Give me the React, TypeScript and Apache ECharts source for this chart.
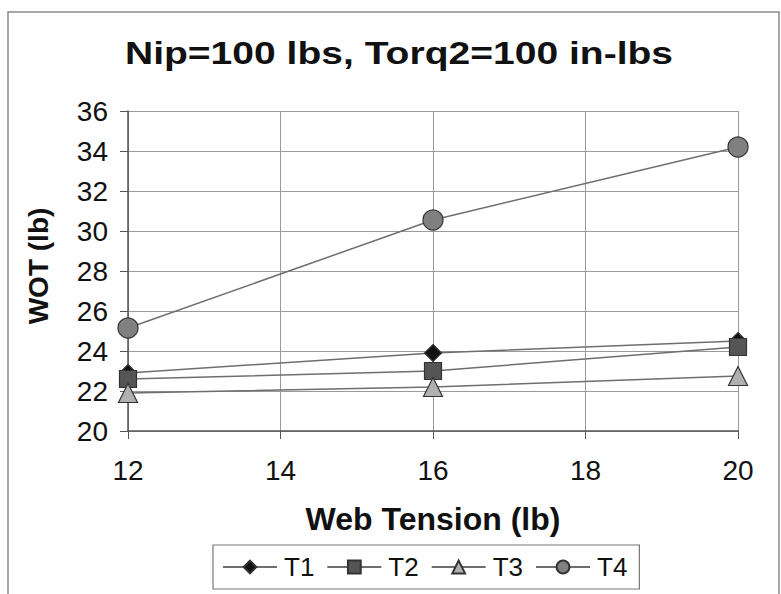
import React, { useEffect, useRef } from "react";
import * as echarts from "echarts";

const webTension = [12, 16, 20];
const t1 = [22.9, 23.9, 24.5];
const t2 = [22.6, 23.0, 24.2];
const t3 = [21.9, 22.2, 22.75];
const t4 = [25.15, 30.55, 34.2];
const seriesNames = ["T1", "T2", "T3", "T4"];
const titleText = "Nip=100 lbs, Torq2=100 in-lbs";
const xName = "Web Tension (lb)";
const yName = "WOT (lb)";

const FONT = "'Liberation Sans', Arial, Helvetica, sans-serif";

export default function App() {
  const ref = useRef<HTMLDivElement>(null);
  useEffect(() => {
    if (!ref.current) return;
    const chart = echarts.init(ref.current, null, { renderer: "svg" });
    const pts = (vals: number[]) => webTension.map((x, i) => [x, vals[i]]);
    const lineStyle = { color: "#6e6e6e", width: 1.5 };
    const mk = (name: string, vals: number[], symbol: string, size: number, fill: string) => ({
      name,
      type: "line",
      data: pts(vals),
      symbol,
      symbolSize: size,
      showSymbol: true,
      lineStyle,
      itemStyle: { color: fill, borderColor: "#333", borderWidth: 1.2 },
      emphasis: { disabled: true },
      z: 3,
    });
    chart.setOption({
      animation: false,
      backgroundColor: "#ffffff",
      textStyle: { fontFamily: FONT },
      graphic: [
        {
          type: "rect",
          shape: { x: 8, y: 12, width: 771, height: 600 },
          style: { fill: "none", stroke: "#8a8a8a", lineWidth: 1.5 },
          silent: true,
          z: -10,
        },
        {
          type: "text",
          x: 399,
          y: 53,
          scaleX: 1.22,
          style: {
            text: titleText,
            fontSize: 32,
            fontWeight: "bold",
            fontFamily: FONT,
            fill: "#111",
            textAlign: "center",
            textVerticalAlign: "middle",
          },
        },
        {
          type: "text",
          x: 38,
          y: 266,
          rotation: Math.PI / 2,
          style: {
            text: yName,
            fontSize: 28,
            fontWeight: "bold",
            fontFamily: FONT,
            fill: "#111",
            textAlign: "center",
            textVerticalAlign: "middle",
          },
        },
        {
          type: "text",
          x: 433,
          y: 519,
          style: {
            text: xName,
            fontSize: 32,
            fontWeight: "bold",
            fontFamily: FONT,
            fill: "#111",
            textAlign: "center",
            textVerticalAlign: "middle",
          },
        },
      ],
      grid: { left: 128, right: 43, top: 111, bottom: 163, containLabel: false },
      xAxis: {
        type: "value",
        min: 12,
        max: 20,
        interval: 2,
        axisLine: { show: true, onZero: false, lineStyle: { color: "#555", width: 1.5 } },
        axisTick: { show: true, length: 8, inside: false, lineStyle: { color: "#555" } },
        axisLabel: { fontSize: 28, color: "#111", margin: 25, fontFamily: FONT },
        splitLine: { show: true, lineStyle: { color: "#9a9a9a", width: 1 } },
      },
      yAxis: {
        type: "value",
        min: 20,
        max: 36,
        interval: 2,
        axisLine: { show: true, onZero: false, lineStyle: { color: "#555", width: 1.5 } },
        axisTick: { show: true, length: 8, inside: false, lineStyle: { color: "#555" } },
        axisLabel: { fontSize: 28, color: "#111", margin: 20, fontFamily: FONT },
        splitLine: { show: true, lineStyle: { color: "#9a9a9a", width: 1 } },
      },
      legend: {
        data: seriesNames,
        left: 213,
        top: 545,
        orient: "horizontal",
        itemWidth: 54,
        itemHeight: 16,
        itemGap: 12,
        padding: [9, 12, 9, 9],
        borderColor: "#777",
        borderWidth: 1.2,
        textStyle: { fontSize: 26, color: "#111", fontFamily: FONT, padding: [0, 0, 0, 2] },
        selectedMode: false,
      },
      series: [
        mk(seriesNames[0], t1, "diamond", 17, "#111111"),
        mk(seriesNames[1], t2, "rect", 17, "#555555"),
        mk(seriesNames[2], t3, "triangle", 19, "#b0b0b0"),
        mk(seriesNames[3], t4, "circle", 20, "#808080"),
      ],
    });
    return () => chart.dispose();
  }, []);
  return (
    <div
      ref={ref}
      style={{ position: "absolute", left: 0, top: 0, width: 781, height: 594 }}
    />
  );
}
